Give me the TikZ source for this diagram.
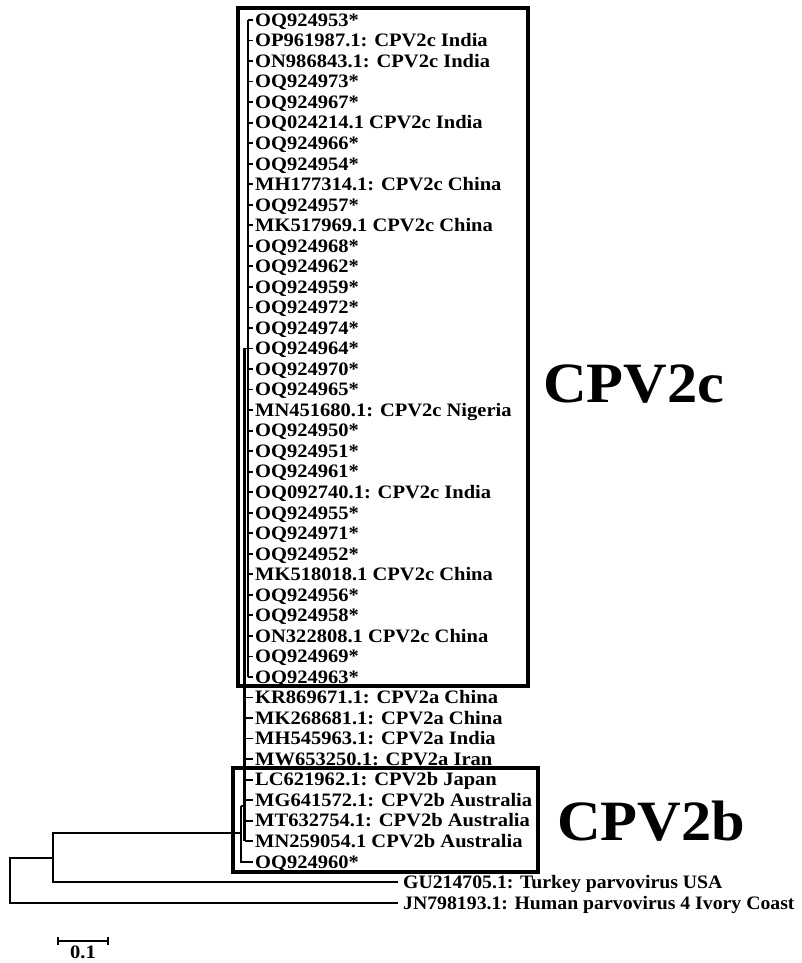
\documentclass[tikz,border=0pt]{standalone}
\usepackage{fontspec}
\usepackage{graphicx}
\setmainfont{Liberation Serif}
\usetikzlibrary{positioning}
\newcommand{\wide}[1]{\scalebox{1.08}[1]{#1}}
\tikzset{
  leaf/.style={anchor=west, inner xsep=2pt, inner ysep=0pt, text height=12.6pt, text depth=0pt,
    font=\fontsize{19}{21}\selectfont\bfseries},
  outleaf/.style={leaf, inner xsep=5pt},
  branch/.style={line width=1.8pt},
  stem/.style={line width=2.6pt},
  cladebox/.style={line width=4pt},
  cladename/.style={anchor=base west, inner sep=0pt, font=\fontsize{57}{60}\selectfont\bfseries}
}

\begin{document}
\begin{tikzpicture}[x=1pt,y=-1pt]
\useasboundingbox (0,0) rectangle (801,963);
% taxa
\foreach \txt [count=\i] in {OQ924953*, OP961987.1: CPV2c India, ON986843.1: CPV2c India, OQ924973*,
  OQ924967*, OQ024214.1 CPV2c India, OQ924966*, OQ924954*, MH177314.1: CPV2c China, OQ924957*,
  MK517969.1 CPV2c China, OQ924968*, OQ924962*, OQ924959*, OQ924972*, OQ924974*, OQ924964*,
  OQ924970*, OQ924965*, MN451680.1: CPV2c Nigeria, OQ924950*, OQ924951*, OQ924961*,
  OQ092740.1: CPV2c India, OQ924955*, OQ924971*, OQ924952*, MK518018.1 CPV2c China, OQ924956*,
  OQ924958*, ON322808.1 CPV2c China, OQ924969*, OQ924963*,
  KR869671.1: CPV2a China, MK268681.1: CPV2a China, MH545963.1: CPV2a India, MW653250.1: CPV2a Iran,
  LC621962.1: CPV2b Japan, MG641572.1: CPV2b Australia, MT632754.1: CPV2b Australia,
  MN259054.1 CPV2b Australia, OQ924960*}
  \node[leaf] (l\i) at (253,{20+20.53*(\i-1)}) {\wide{\txt}};
\node[outleaf] (l43) at (398,882.3) {\scalebox{1.04}[1]{GU214705.1: Turkey parvovirus USA}};
\node[outleaf] (l44) at (398,902.8) {\scalebox{1.04}[1]{JN798193.1: Human parvovirus 4 Ivory Coast}};

\coordinate (xR) at (10,0);
\coordinate (xN) at (53,0);
\coordinate (xA) at (241,0);
\coordinate (xB) at (244.5,0);
\coordinate (xC) at (248,0);
\coordinate (nA) at (241,806);
\coordinate (nI) at (241,833);
\coordinate (nR) at (10,858);

% CPV2c
\draw[stem] (xC |- l1.west) -- (xC |- l33.west);
\foreach \i in {1,...,33} \draw[branch] (xC |- l\i.west) -- (l\i.west);
% CPV2a + CPV2b
\draw[stem] (xB |- l17.west) -- (xB |- l41.west);
\draw[branch] (xB |- l17.west) -- (xC |- l17.west);
\foreach \i in {34,...,41} \draw[branch] (xB |- l\i.west) -- (l\i.west);
\draw[branch] (nA) -- (xA |- l42.west) -- (l42.west);
\draw[branch] (nA) -- (xB |- nA);
% outgroups
\draw[branch] (nI) -- (xN |- nI) -- (xN |- l43.west) -- (l43.west);
\draw[branch] (xN |- nR) -- (nR) -- (xR |- l44.west) -- (l44.west);

% clades
\draw[cladebox] (238,8) rectangle (528,686);
\draw[cladebox] (233,768) rectangle (538,872);
\node[cladename] (c2c) at (543,402) {\scalebox{1.06}[1]{CPV2c}};
\node[cladename] (c2b) at (557,840) {\scalebox{1.06}[1]{CPV2b}};

% scale
\coordinate (s1) at (58,941);
\coordinate (s2) at (108,941);
\draw[line width=2pt] (s1) -- (s2);
\draw[line width=2pt] ([yshift=-4pt]s1) -- ([yshift=4pt]s1);
\draw[line width=2pt] ([yshift=-4pt]s2) -- ([yshift=4pt]s2);
\node[leaf, anchor=north, text height=11pt] (sl) at (83,947) {\wide{0.1}};
\end{tikzpicture}
\end{document}
